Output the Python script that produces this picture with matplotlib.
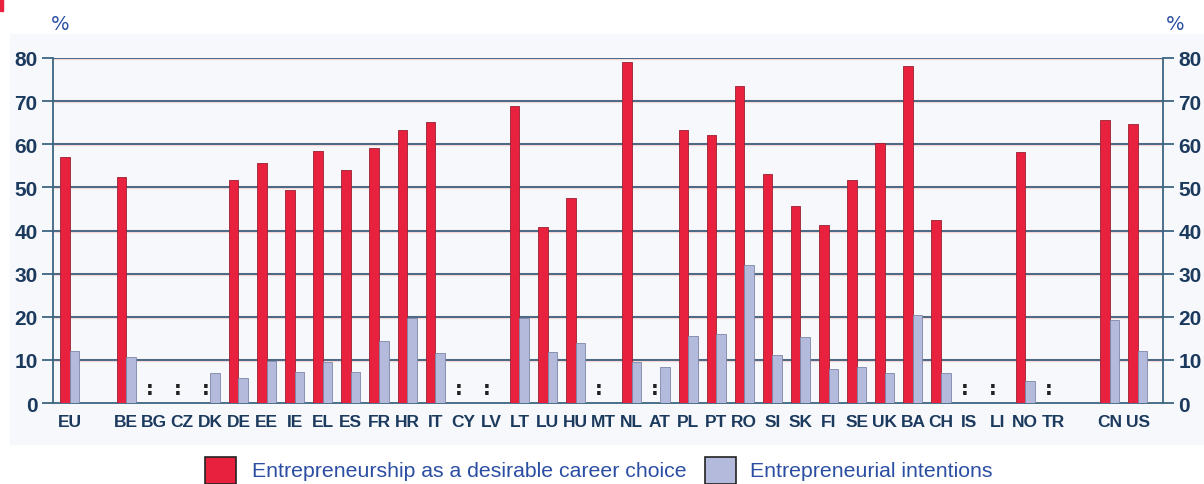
import matplotlib.pyplot as plt
import matplotlib.patches as mpatches
import numpy as np

# country codes, with empty slots for gaps
countries = ['EU', '', 'BE', 'BG', 'CZ', 'DK', 'DE', 'EE', 'IE', 'EL', 'ES', 'FR', 'HR', 'IT',
             'CY', 'LV', 'LT', 'LU', 'HU', 'MT', 'NL', 'AT', 'PL', 'PT', 'RO', 'SI', 'SK',
             'FI', 'SE', 'UK', 'BA', 'CH', 'IS', 'LI', 'NO', 'TR', '', 'CN', 'US']

# None = ':' (not available), gaps are None too
career_choice = [57.0, None, 52.5, None, None, None, 51.7, 55.6, 49.3, 58.4, 54.0, 59.2, 63.3, 65.2,
                 None, None, 68.8, 40.7, 47.5, None, 79.0, None, 63.3, 62.2, 73.6, 53.1, 45.6,
                 41.3, 51.6, 60.3, 78.2, 42.4, None, None, 58.3, None, None, 65.7, 64.8]
intentions = [12.0, None, 10.6, None, None, 7.0, 5.9, 9.8, 7.2, 9.6, 7.1, 14.3, 19.6, 11.5,
              None, None, 19.6, 11.9, 14.0, None, 9.4, 8.3, 15.6, 16.0, 31.9, 11.1, 15.2,
              8.0, 8.4, 6.9, 20.4, 7.0, None, None, 5.1, None, None, 19.3, 12.1]

not_available = ['BG', 'CZ', 'DK', 'CY', 'LV', 'MT', 'AT', 'IS', 'LI', 'TR']

red = '#e8213f'
lilac = '#b4badb'
navy = '#1c3a5e'
blue_txt = '#2b4ea3'

fig = plt.figure(figsize=(12.04, 4.85), dpi=100)
fig.patches.append(mpatches.Rectangle((10 / 1204, 40 / 485), 1194 / 1204, 410 / 485,
                                      transform=fig.transFigure, color='#f6f8fb', zorder=-5))
fig.patches.append(mpatches.Rectangle((0, 1 - 12 / 485), 3 / 1204, 12 / 485,
                                      transform=fig.transFigure, color=red, zorder=1))

ax = fig.add_axes([53 / 1204, 1 - 404 / 485, 1110 / 1204, 345 / 485])
ax.set_facecolor('none')
ax.set_zorder(2)

x = np.arange(len(countries))
w = 0.34
for i, c in enumerate(countries):
    if career_choice[i] is not None:
        ax.bar(x[i] - w / 2, career_choice[i], w, color=red, edgecolor='#9a2030', lw=0.6, zorder=3)
    if intentions[i] is not None:
        ax.bar(x[i] + w / 2, intentions[i], w, color=lilac, edgecolor='#7d86a8', lw=0.6, zorder=3)
    if c in not_available:
        ax.text(x[i] - w / 2, 3.4, ':', ha='center', va='center', fontsize=14,
                fontweight='bold', color='#222222', zorder=4)

ax.set_xlim(-0.6, 38.9)
ax.set_ylim(0, 80)
ax.set_yticks(range(0, 81, 10))
ax.set_xticks(x)
ax.set_xticklabels(countries)
for y in range(10, 81, 10):
    ax.axhline(y, color='#f4d6d6', lw=2.4, zorder=1)
    ax.axhline(y, color='#2c5577', lw=1.2, zorder=2)

for s in ['left', 'right', 'bottom']:
    ax.spines[s].set_color('#3d6582')
    ax.spines[s].set_linewidth(1.3)
ax.spines['top'].set_visible(False)

ax.tick_params(axis='x', length=0, pad=8, labelsize=12.5, labelcolor=navy)
ax.tick_params(axis='y', length=8, width=1.3, color='#3d6582', pad=3, labelsize=15,
               labelcolor=navy, right=True, labelright=True)
for lab in ax.get_xticklabels() + ax.get_yticklabels():
    lab.set_fontweight('bold')
    lab.set_family(['Liberation Sans', 'DejaVu Sans'])

fig.text(60 / 1204, 1 - 25 / 485, '%', color=blue_txt, fontsize=14, ha='center', va='center')
fig.text(1175 / 1204, 1 - 25 / 485, '%', color=blue_txt, fontsize=14, ha='center', va='center')

# legend
fig.patches.append(mpatches.Rectangle((205 / 1204, 0), 31 / 1204, 27 / 485,
                                      transform=fig.transFigure, facecolor=red,
                                      edgecolor='#222222', lw=1.2))
fig.text(252 / 1204, 1 - 472 / 485, 'Entrepreneurship as a desirable career choice',
         color=blue_txt, fontsize=15.3, ha='left', va='center',
         family=['Liberation Sans', 'DejaVu Sans'])
fig.patches.append(mpatches.Rectangle((705 / 1204, 0), 31 / 1204, 27 / 485,
                                      transform=fig.transFigure, facecolor=lilac,
                                      edgecolor='#222222', lw=1.2))
fig.text(750 / 1204, 1 - 472 / 485, 'Entrepreneurial intentions',
         color=blue_txt, fontsize=15.3, ha='left', va='center',
         family=['Liberation Sans', 'DejaVu Sans'])

fig.savefig('out.png', dpi=100)
